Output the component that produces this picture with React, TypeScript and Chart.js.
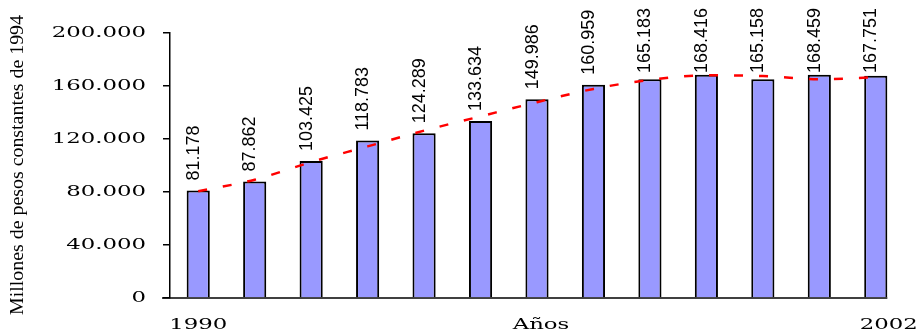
import React, { useEffect, useRef } from "react";
import { Chart, registerables } from "chart.js";

Chart.register(...registerables);

const years = ["1990", "1991", "1992", "1993", "1994", "1995", "1996", "1997", "1998", "1999", "2000", "2001", "2002"];
const gdp = [81178, 87862, 103425, 118783, 124289, 133634, 149986, 160959, 165183, 168416, 165158, 168459, 167751];
const trend = [80500, 89300, 102600, 114400, 126300, 137100, 147800, 157800, 164600, 168100, 167500, 165100, 166600];
const yMax = 200000;
const yStep = 40000;
const xTitle = "Años";
const yTitle = "Millones de pesos constantes de 1994";

const fmt = (v: number) => {
  const s = String(Math.round(v));
  return s.replace(/\B(?=(\d{3})+(?!\d))/g, ".");
};

const SERIF_TICK = "14px 'DejaVu Serif'";
const STRETCH = 1.63;

function drawStretched(ctx: CanvasRenderingContext2D, text: string, x: number, y: number, align: CanvasTextAlign, sx: number) {
  ctx.save();
  ctx.translate(x, y);
  ctx.scale(sx, 1);
  ctx.font = SERIF_TICK;
  ctx.fillStyle = "#000";
  ctx.textAlign = align;
  ctx.textBaseline = "middle";
  ctx.fillText(text, 0, 0);
  ctx.restore();
}

const axisLinePlugin = {
  id: "axisLine",
  beforeDatasetsDraw(chart: any) {
    const ctx = chart.ctx as CanvasRenderingContext2D;
    const area = chart.chartArea;
    const ys = chart.scales.y;
    const meta = chart.getDatasetMeta(1);
    const last = meta.data[meta.data.length - 1] as any;
    const y0 = ys.getPixelForValue(0);
    ctx.save();
    ctx.strokeStyle = "#000";
    ctx.lineWidth = 1.5;
    ctx.beginPath();
    ctx.moveTo(area.left - 8, y0);
    ctx.lineTo(last.x + last.width / 2, y0);
    ctx.stroke();
    ctx.restore();
  },
};

const textPlugin = {
  id: "customText",
  afterDraw(chart: any) {
    const ctx = chart.ctx as CanvasRenderingContext2D;
    const ys = chart.scales.y;
    const meta = chart.getDatasetMeta(1);
    const bars = meta.data as any[];
    const first = bars[0];
    const last = bars[bars.length - 1];

    for (const t of ys.ticks) {
      const y = ys.getPixelForValue(t.value);
      drawStretched(ctx, fmt(t.value), 146, y, "right", STRETCH);
    }

    const xy = 325;
    drawStretched(ctx, years[0], first.x, xy, "center", STRETCH);
    drawStretched(ctx, years[years.length - 1], last.x + 13, xy, "center", STRETCH);
    drawStretched(ctx, xTitle, (first.x + last.x) / 2 + 4, xy, "center", STRETCH);

    ctx.save();
    ctx.font = "18px 'Liberation Sans'";
    ctx.fillStyle = "#000";
    bars.forEach((el: any, i: number) => {
      const txt = fmt(gdp[i]);
      const tw = ctx.measureText(txt).width;
      const startY = Math.max(el.y - 10, 8 + tw);
      ctx.save();
      ctx.translate(el.x + 0.5, startY);
      ctx.rotate(-Math.PI / 2);
      ctx.textAlign = "left";
      ctx.textBaseline = "alphabetic";
      ctx.fillText(txt, 0, 0);
      ctx.restore();
    });
    ctx.restore();

    ctx.save();
    ctx.font = "19px 'Liberation Serif'";
    ctx.fillStyle = "#000";
    const w = ctx.measureText(yTitle).width;
    const target = 300;
    ctx.translate(18.5, 165);
    ctx.rotate(-Math.PI / 2);
    ctx.scale(target / w, 1);
    ctx.textAlign = "center";
    ctx.textBaseline = "middle";
    ctx.fillText(yTitle, 0, 0);
    ctx.restore();
  },
};

export default function App() {
  const ref = useRef<HTMLCanvasElement | null>(null);
  useEffect(() => {
    if (!ref.current) return;
    const chart = new Chart(ref.current, {
      type: "bar",
      data: {
        labels: years,
        datasets: [
          {
            type: "line",
            label: "Tendencia",
            data: trend,
            borderColor: "#FF0000",
            borderWidth: 2.5,
            borderDash: [9, 16],
            pointRadius: 0,
            cubicInterpolationMode: "monotone",
            fill: false,
            order: 0,
          } as any,
          {
            type: "bar",
            label: "PIB",
            data: gdp,
            backgroundColor: "#9999FF",
            borderColor: "#000000",
            borderWidth: 2,
            categoryPercentage: 1,
            barPercentage: 0.41,
            order: 1,
          } as any,
        ],
      },
      options: {
        animation: false,
        responsive: true,
        maintainAspectRatio: false,
        layout: { padding: { top: 33, right: 17, left: 0, bottom: 0 } },
        plugins: {
          legend: { display: false },
          tooltip: { enabled: false },
        },
        scales: {
          x: {
            ticks: { display: false },
            grid: { display: false },
            border: { display: false },
            afterFit: (s: any) => {
              s.height = 35;
            },
          },
          y: {
            min: 0,
            max: yMax,
            ticks: { display: false, stepSize: yStep },
            grid: { drawOnChartArea: false, drawTicks: true, tickLength: 7, color: "#000", lineWidth: 1.5 },
            border: { display: true, color: "#000", width: 1.5 },
            afterFit: (s: any) => {
              s.width = 170;
            },
          },
        },
      },
      plugins: [axisLinePlugin, textPlugin],
    });
    return () => chart.destroy();
  }, []);
  return (
    <div style={{ position: "absolute", left: 0, top: 0, width: 921, height: 333 }}>
      <canvas ref={ref} />
    </div>
  );
}
